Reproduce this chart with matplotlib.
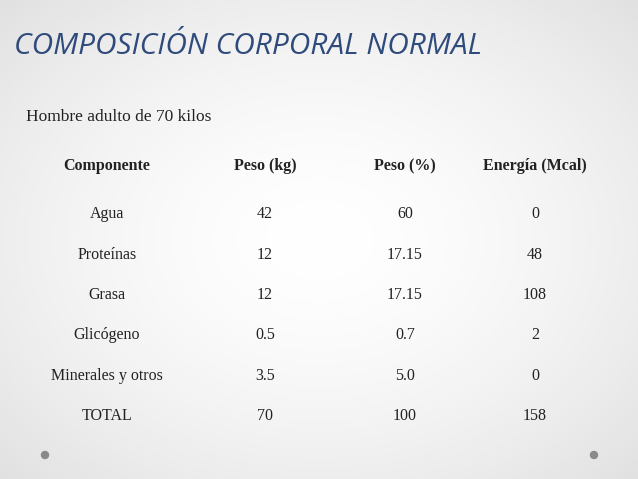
import numpy as np
import matplotlib
matplotlib.use("Agg")
import matplotlib.pyplot as plt

headers = ["Componente", "Peso (kg)", "Peso (%)", "Energía (Mcal)"]
componentes = ["Agua", "Proteínas", "Grasa", "Glicógeno", "Minerales y otros", "TOTAL"]
peso_kg = ["42", "12", "12", "0.5", "3.5", "70"]
peso_pct = ["60", "17.15", "17.15", "0.7", "5.0", "100"]
energia = ["0", "48", "108", "2", "0", "158"]

W, H = 638, 479
fig = plt.figure(figsize=(W/100, H/100), dpi=100)
ax = fig.add_axes([0, 0, 1, 1])
ax.set_xlim(0, W); ax.set_ylim(H, 0); ax.axis("off")

yy, xx = np.mgrid[0:H, 0:W]
r = np.sqrt(((xx - W/2)/(W*0.75))**2 + ((yy - H/2)/(H*0.75))**2)
g = 1.0 - 0.13*np.clip(r, 0, 1)**1.6
ax.imshow(np.dstack([g, g, g]), extent=[0, W, H, 0], zorder=0, aspect="auto")

ax.text(14, 46, "COMPOSICIÓN CORPORAL NORMAL", fontsize=21.5, style="italic",
        color="#2F4B7C", family="Open Sans", va="center", ha="left")
ax.text(26, 117, "Hombre adulto de 70 kilos", fontsize=12.5, color="#222222",
        family="Liberation Serif", va="center")

xs = [107, 265, 405, 535]
for x, h in zip(xs, headers):
    ax.text(x, 166, h, fontsize=11.5, fontweight="bold", ha="center", va="center",
            family="Liberation Serif", color="#222222")
ys = [214, 255, 295, 335, 376, 416]
for i, y in enumerate(ys):
    for x, col in zip(xs, [componentes, peso_kg, peso_pct, energia]):
        ax.text(x, y, col[i], fontsize=11.5, ha="center", va="center",
                family="Liberation Serif", color="#222222")

for x in [45, 594]:
    ax.add_patch(plt.Circle((x, 455), 3.5, color="#8a8a8a", zorder=3))

fig.savefig("out.png", dpi=100)
